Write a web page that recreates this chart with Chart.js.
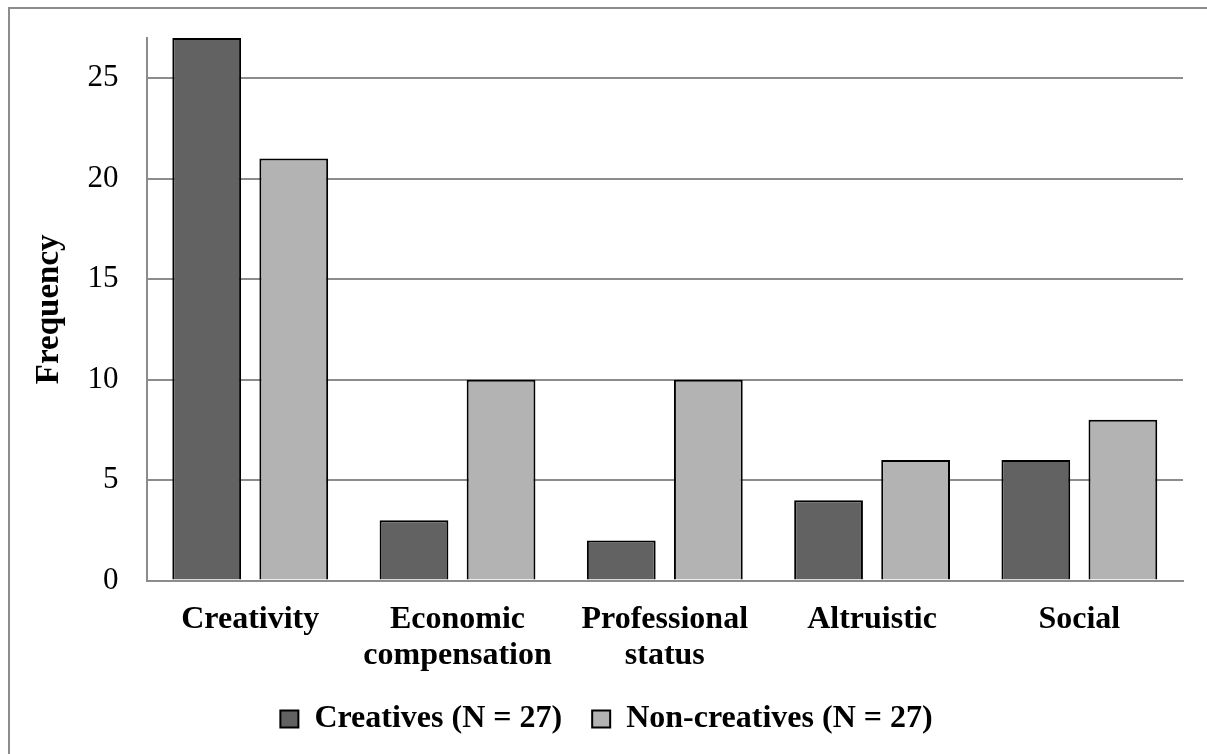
<!DOCTYPE html>
<html>
<head>
<meta charset="utf-8">
<script src="https://cdn.jsdelivr.net/npm/chart.js@4"></script>
<style>
  html, body { margin: 0; padding: 0; background: #fff; }
  #frame {
    position: absolute; left: 8px; top: 7px; width: 1300px; height: 800px;
    border-top: 2px solid #8c8c8c; border-left: 2px solid #8c8c8c;
  }
  #wrap { position: absolute; left: 0; top: 0; width: 1207px; height: 754px; }
</style>
</head>
<body>
<div id="frame"></div>
<div id="wrap"><canvas id="chart"></canvas></div>
<script>
const categories = ["Creativity", ["Economic", "compensation"], ["Professional", "status"], "Altruistic", "Social"];
const creatives = [27, 3, 2, 4, 6];
const nonCreatives = [21, 10, 10, 6, 8];
const yTicks = [0, 5, 10, 15, 20, 25];

const serif = "'Liberation Serif', 'Times New Roman', serif";

new Chart(document.getElementById("chart").getContext("2d"), {
  type: "bar",
  data: {
    labels: categories,
    datasets: [
      {
        label: "Creatives (N = 27)",
        data: creatives,
        backgroundColor: "#626262",
        borderColor: "#000",
        borderWidth: 2
      },
      {
        label: "Non-creatives (N = 27)",
        data: nonCreatives,
        backgroundColor: "#b3b3b3",
        borderColor: "#000",
        borderWidth: 2
      }
    ]
  },
  options: {
    responsive: true,
    maintainAspectRatio: false,
    animation: false,
    categoryPercentage: 0.84,
    barPercentage: 0.79,
    layout: { padding: { left: 30, right: 24, top: 38, bottom: 9 } },
    plugins: {
      tooltip: { enabled: false },
      legend: {
        position: "bottom",
        labels: {
          color: "#000",
          font: { family: serif, size: 32, weight: "bold" },
          boxWidth: 18,
          boxHeight: 17,
          padding: 30
        }
      }
    },
    scales: {
      x: {
        grid: { display: false },
        border: { color: "#8c8c8c", width: 2 },
        afterFit: scale => { scale.height -= 14; },
        ticks: {
          color: "#000",
          font: { family: serif, size: 32, weight: "bold", lineHeight: 1.1 },
          padding: 14,
          maxRotation: 0
        }
      },
      y: {
        min: 0,
        max: 27,
        afterBuildTicks: scale => {
          scale.ticks = yTicks.map(v => ({ value: v }));
        },
        afterFit: scale => { scale.paddingTop = 0; },
        grid: { color: "#8c8c8c", lineWidth: 2, drawTicks: false },
        border: { color: "#8c8c8c", width: 2 },
        ticks: {
          color: "#000",
          font: { family: serif, size: 31 },
          padding: 28
        },
        title: {
          display: true,
          text: "Frequency",
          color: "#000",
          font: { family: serif, size: 33, weight: "bold" },
          padding: { top: 0, bottom: -10 }
        }
      }
    }
  }
});
</script>
</body>
</html>
